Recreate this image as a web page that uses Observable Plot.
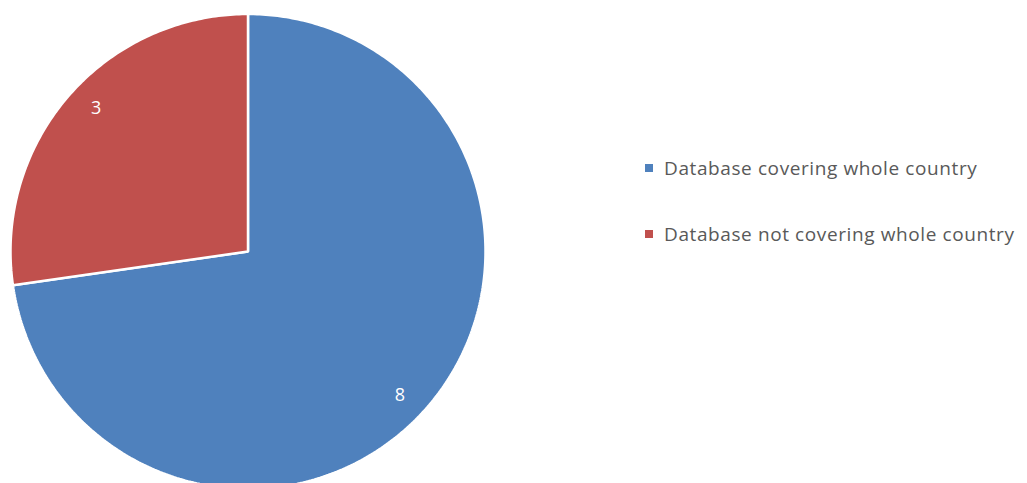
<!DOCTYPE html>
<html>
<head>
<meta charset="utf-8">
<script src="https://cdn.jsdelivr.net/npm/d3@7"></script>
<script src="https://cdn.jsdelivr.net/npm/@observablehq/plot@0.6"></script>
<style>
  html, body { margin: 0; padding: 0; background: #fff; }
  #wrap { position: relative; width: 1027px; height: 483px; overflow: hidden; }
  #legend { position: absolute; left: 0; top: 0; font-family: "Open Sans", sans-serif; font-size: 19px; letter-spacing: 0.6px; color: #595959; }
  .item { position: absolute; left: 645px; display: flex; align-items: center; height: 30px; white-space: nowrap; }
  .sw { width: 8px; height: 8px; margin-right: 11px; }
</style>
</head>
<body>
<div id="wrap"><div id="legend"></div></div>
<script>
const categories = ["Database covering whole country", "Database not covering whole country"];
const values = [8, 3];
const colors = ["#4F81BD", "#C0504D"];

const total = d3.sum(values);
// Build slice polygons (clockwise from 12 o'clock, like the original)
const pts = [];
let start = 0;
const slices = categories.map((c, i) => {
  const a0 = start, a1 = start + values[i] / total * 2 * Math.PI;
  start = a1;
  return {category: c, value: values[i], a0, a1};
});
for (const s of slices) {
  pts.push({category: s.category, x: 0, y: 0});
  const n = Math.max(2, Math.ceil((s.a1 - s.a0) * 80));
  for (let k = 0; k <= n; k++) {
    const a = s.a0 + (s.a1 - s.a0) * k / n;
    pts.push({category: s.category, x: Math.sin(a), y: Math.cos(a)});
  }
}
const labelShift = 2.5 * Math.PI / 180;
const labels = slices.map(s => {
  const m = (s.a0 + s.a1) / 2 + labelShift;
  return {text: String(s.value), x: 0.88 * Math.sin(m), y: 0.88 * Math.cos(m)};
});

const cx = 247.5, cy = 251, R = 237.5;
const chart = Plot.plot({
  width: 1027,
  height: 483,
  margin: 0,
  x: {domain: [-1, 1], range: [cx - R, cx + R], axis: null},
  y: {domain: [-1, 1], range: [cy + R, cy - R], axis: null},
  color: {domain: categories, range: colors},
  style: {overflow: "hidden", background: "#fff"},
  marks: [
    Plot.line(pts, {x: "x", y: "y", z: "category", fill: "category", stroke: "#fff", strokeWidth: 2.5, curve: "linear-closed", strokeLinejoin: "miter"}),
    Plot.text(labels, {x: "x", y: "y", text: "text", fill: "#fff", fontSize: 18, fontFamily: "Open Sans, sans-serif"})
  ]
});
const wrap = document.getElementById("wrap");
wrap.insertBefore(chart, wrap.firstChild);

const legend = d3.select("#legend");
const rowCenters = [168, 234];
categories.forEach((c, i) => {
  const it = legend.append("div").attr("class", "item").style("top", (rowCenters[i] - 15) + "px");
  it.append("div").attr("class", "sw").style("background", colors[i]);
  it.append("span").text(c);
});
</script>
</body>
</html>
